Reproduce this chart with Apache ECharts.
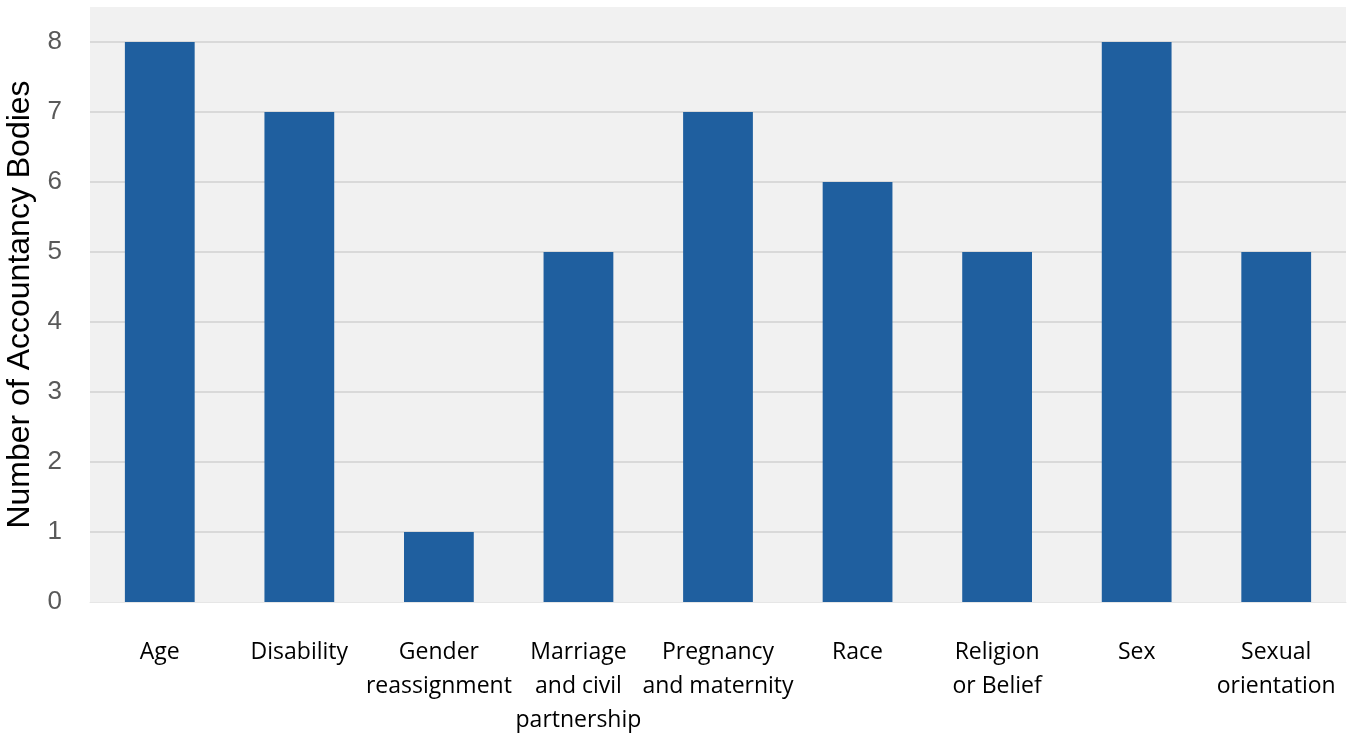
<!DOCTYPE html>
<html>
<head>
<meta charset="utf-8">
<script src="https://cdn.jsdelivr.net/npm/echarts@6/dist/echarts.min.js"></script>
<style>
html,body{margin:0;padding:0;background:#fff;}
#chart{width:1354px;height:734px;}
</style>
</head>
<body>
<div id="chart"></div>
<script>
var categories = ["Age", "Disability", "Gender\nreassignment", "Marriage\nand civil\npartnership", "Pregnancy\nand maternity", "Race", "Religion\nor Belief", "Sex", "Sexual\norientation"];
var values = [8, 7, 1, 5, 7, 6, 5, 8, 5];
var yTicks = [0, 1, 2, 3, 4, 5, 6, 7, 8];
var yAxisTitle = "Number of Accountancy Bodies";

var chart = echarts.init(document.getElementById('chart'));
var splitColors = ['rgba(0,0,0,0)'];
for (var i = 1; i < yTicks.length; i++) splitColors.push('#d9d9d9');
splitColors.push('rgba(0,0,0,0)');

chart.setOption({
  animation: false,
  grid: {
    left: 90, right: 8, top: 7, bottom: 132,
    show: true, backgroundColor: '#f1f1f1', borderWidth: 0,
    outerBoundsMode: 'none',
    containLabel: false
  },
  xAxis: {
    type: 'category',
    data: categories,
    axisLine: { show: true, lineStyle: { color: '#e6e6e6', width: 1 } },
    axisTick: { show: false },
    axisLabel: {
      interval: 0,
      margin: 33,
      color: '#000',
      fontFamily: 'Open Sans, Noto Sans, sans-serif',
      fontSize: 23,
      lineHeight: 34,
      verticalAlign: 'top'
    }
  },
  yAxis: {
    type: 'value',
    min: 0,
    max: 8.5,
    interval: 1,
    name: yAxisTitle,
    nameLocation: 'middle',
    nameGap: 54,
    nameTextStyle: { color: '#000', fontSize: 32, fontFamily: 'Liberation Sans, Arial, sans-serif' },
    axisLine: { show: false },
    axisTick: { show: false },
    splitLine: { show: true, lineStyle: { color: splitColors, width: 2 } },
    axisLabel: {
      margin: 28,
      color: '#595959',
      fontSize: 26,
      fontFamily: 'Liberation Sans, Arial, sans-serif',
      formatter: function (v) { return yTicks.indexOf(v) >= 0 ? String(v) : ''; }
    }
  },
  series: [{
    type: 'bar',
    data: values,
    barWidth: '50%',
    itemStyle: { color: '#1f5f9f' }
  }]
});
</script>
</body>
</html>
